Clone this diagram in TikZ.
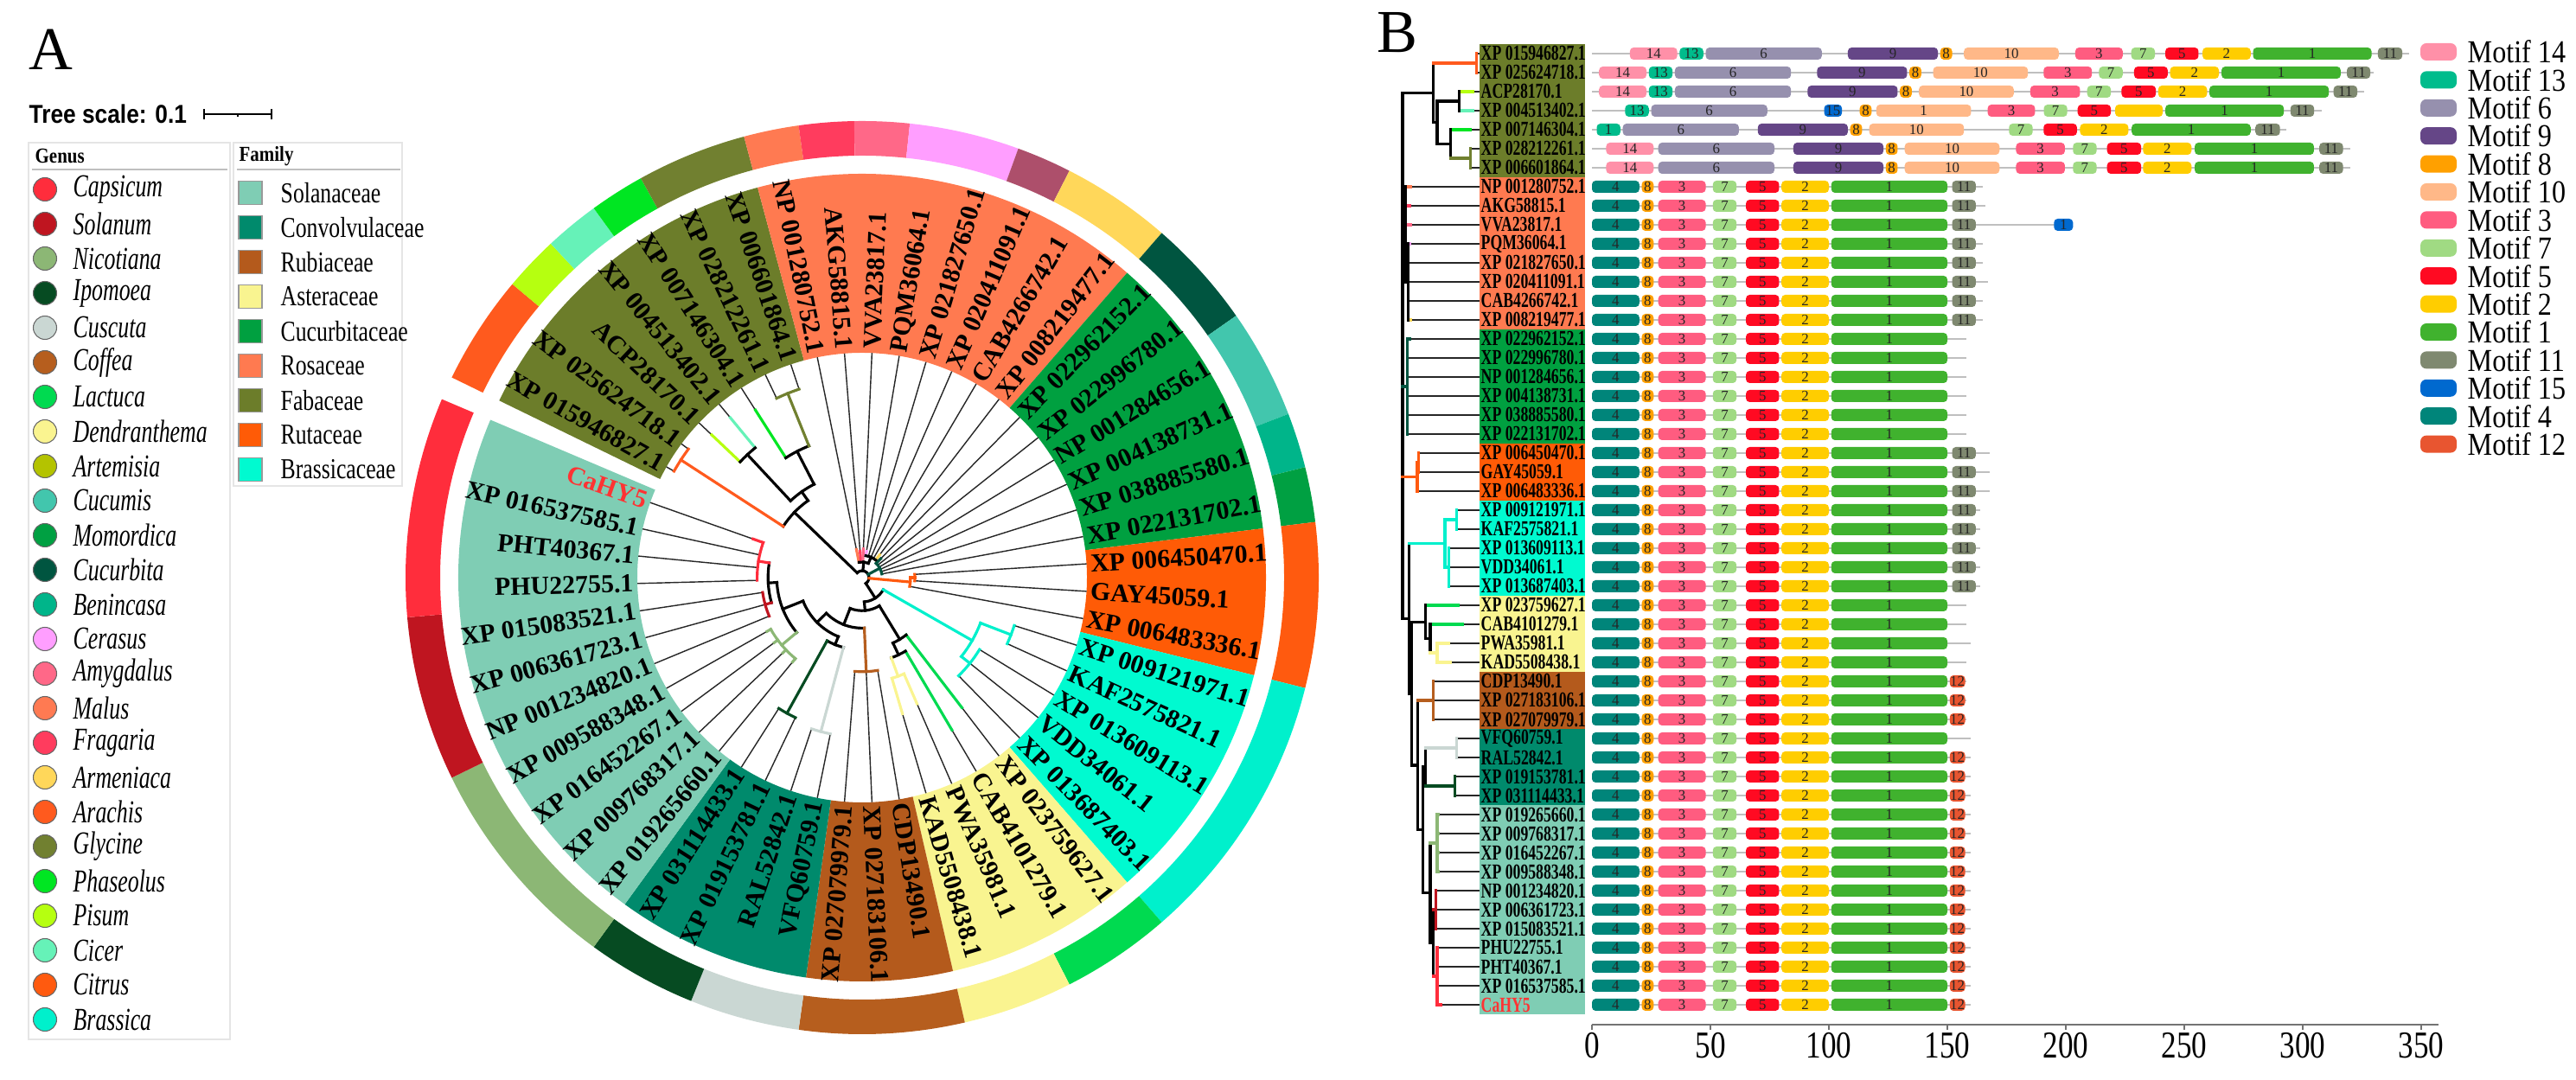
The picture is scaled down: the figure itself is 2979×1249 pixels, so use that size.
\documentclass[tikz,border=0pt]{standalone}
\usepackage{fontspec}
\setmainfont{Liberation Serif}
\newfontfamily\arialfont{Liberation Sans}
\usepackage{graphicx}
\usetikzlibrary{positioning}

% family colours
\definecolor{Solanaceae}{HTML}{7FCDB4}
\definecolor{Convolvulaceae}{HTML}{008A6C}
\definecolor{Rubiaceae}{HTML}{B45A1C}
\definecolor{Asteraceae}{HTML}{F9F490}
\definecolor{Cucurbitaceae}{HTML}{00A040}
\definecolor{Rosaceae}{HTML}{FF7A50}
\definecolor{Fabaceae}{HTML}{6C7D2A}
\definecolor{Rutaceae}{HTML}{FF5B06}
\definecolor{Brassicaceae}{HTML}{00FAD0}
% genus colours
\definecolor{Capsicum}{HTML}{FF2D3C}
\definecolor{Solanum}{HTML}{BF1520}
\definecolor{Nicotiana}{HTML}{8CB775}
\definecolor{Ipomoea}{HTML}{064B22}
\definecolor{Cuscuta}{HTML}{CAD7D3}
\definecolor{Coffea}{HTML}{B65E1E}
\definecolor{Lactuca}{HTML}{00DA50}
\definecolor{Dendranthema}{HTML}{FAF490}
\definecolor{Artemisia}{HTML}{B4C300}
\definecolor{Cucumis}{HTML}{42C6AD}
\definecolor{Momordica}{HTML}{00A042}
\definecolor{Cucurbita}{HTML}{005540}
\definecolor{Benincasa}{HTML}{00B58A}
\definecolor{Cerasus}{HTML}{FF9EFF}
\definecolor{Amygdalus}{HTML}{FF6888}
\definecolor{Persica}{HTML}{AD4F6B}
\definecolor{Malus}{HTML}{FF7A52}
\definecolor{Fragaria}{HTML}{FF3C5E}
\definecolor{Armeniaca}{HTML}{FFD75A}
\definecolor{Arachis}{HTML}{FF5A1E}
\definecolor{Glycine}{HTML}{718030}
\definecolor{Phaseolus}{HTML}{00E622}
\definecolor{Pisum}{HTML}{B6FF10}
\definecolor{Cicer}{HTML}{66F2B8}
\definecolor{Citrus}{HTML}{FF5A0F}
\definecolor{Brassica}{HTML}{00F0CC}
\definecolor{HYred}{HTML}{FF3333}
% motif colours
\definecolor{m1}{HTML}{40B22E}
\definecolor{m2}{HTML}{FFCD00}
\definecolor{m3}{HTML}{FF5C80}
\definecolor{m4}{HTML}{00857A}
\definecolor{m5}{HTML}{FF0A22}
\definecolor{m6}{HTML}{9690AE}
\definecolor{m7}{HTML}{A0DA83}
\definecolor{m8}{HTML}{FFA000}
\definecolor{m9}{HTML}{654687}
\definecolor{m10}{HTML}{FFB888}
\definecolor{m11}{HTML}{7F8970}
\definecolor{m12}{HTML}{E85530}
\definecolor{m13}{HTML}{00BC8C}
\definecolor{m14}{HTML}{FF90A8}
\definecolor{m15}{HTML}{0069CF}

\tikzset{branch/.style={line width=0.9pt,line cap=rect},
    twig/.style={line width=0.4pt,black!85},
    leaflabel/.style={font=\fontsize{8.5}{9}\selectfont\bfseries,inner sep=0pt},
    rowlabel/.style={font=\fontsize{7}{8}\selectfont\bfseries,inner sep=0pt},
    backbone/.style={draw=black!25,line width=0.45pt},
    motiftext/.style={font=\fontsize{4.8}{5}\selectfont,inner sep=0pt,text=black!85},
    motiflegend/.style={font=\fontsize{10.5}{12}\selectfont,inner sep=0pt},
    legendbox/.style={draw=black!10,line width=0.4pt},
    legendhead/.style={font=\fontsize{7}{8}\selectfont\bfseries,inner sep=0pt},
    genustext/.style={font=\fontsize{10.5}{12}\selectfont\itshape,inner sep=0pt},
    familytext/.style={font=\fontsize{9.5}{11}\selectfont,inner sep=0pt},
    axislabel/.style={font=\fontsize{12.5}{14}\selectfont,inner sep=0pt}
}

\newcommand{\sq}[2]{\scalebox{#1}[1]{#2}}

\newcommand{\treeclade}[6]
{
% args: (parent depth, depth, position, first child, last child, colour)
    \pgfmathsetmacro\angpos{150.5-7*(#3-1)}
    \pgfmathsetmacro\angfirst{150.5-7*(#4-1)}
    \pgfmathsetmacro\anglast{150.5-7*(#5-1)}
    \pgfmathsetmacro\rfrom{8+252*#1}
    \pgfmathsetmacro\rto{8+252*#2}
    \begin{scope}[shift={(997,581)}]
        \draw[branch,draw=#6] (\angpos:\rfrom) -- (\angpos:\rto);
        \draw[branch,draw=#6] (\angfirst:\rto) arc[start angle=\angfirst,end angle=\anglast,radius=\rto];
    \end{scope}
    \draw[branch,draw=#6] ({1622+89*#1},{1187-22*(#3-1)}) -- ({1622+89*#2},{1187-22*(#3-1)});
    \draw[branch,draw=#6] ({1622+89*#2},{1187-22*(#4-1)}) -- ({1622+89*#2},{1187-22*(#5-1)});
}

\newcommand{\treeleaf}[4]
{
% args: (leaf, parent depth, colour of the inner part, depth where it turns black)
    \pgfmathsetmacro\angleaf{150.5-7*(#1-1)}
    \pgfmathsetmacro\rfrom{8+252*#2}
    \pgfmathsetmacro\rmid{8+252*#4}
    \pgfmathsetmacro\rowy{1187-22*(#1-1)}
    \begin{scope}[shift={(997,581)}]
        \draw[twig] (\angleaf:\rmid) -- (\angleaf:260);
        \draw[branch,draw=#3] (\angleaf:\rfrom) -- (\angleaf:\rmid);
    \end{scope}
    \draw[twig] ({1622+89*#4},\rowy) -- (1711,\rowy);
    \draw[branch,draw=#3] ({1622+89*#2},\rowy) -- ({1622+89*#4},\rowy);
}

\newcommand{\motifbox}[5]
{
% args: (start, end, y, motif colour, label)
    \fill[fill=m#4,rounded corners=1.2pt] ({1841+2.74*#1},{#3-7}) rectangle ({1841+2.74*#2},{#3+7});
    \node[motiftext] at ({1841+2.74*(#1+#2)/2},#3) {#5};
}

\newcommand{\motifrow}[3]
{
% args: (row, end of the line, list of start/end/motif/label)
    \pgfmathsetmacro\rowy{1187-22*(#1-1)}
    \draw[backbone] (1841,\rowy) -- ({1841+2.74*#2},\rowy);
    \foreach \a/\b/\c/\l in {#3}
        \motifbox{\a}{\b}{\rowy}{\c}{\l};
}

\begin{document}
\begin{tikzpicture}[x=0.01cm,y=0.01cm]
\useasboundingbox (0,0) rectangle (2979,1249);

% panel A: heading, scale and legends
\node[font=\fontsize{20}{22}\selectfont] (tagA) at (59,1192) {A};
\node[font=\arialfont\bfseries\fontsize{8.5}{9}\selectfont,anchor=west,inner sep=0pt] (treescale) at (33,1117) {\sq{0.88}{Tree scale: 0.1}};
\draw[line width=0.6pt] (236,1117) -- (314,1117);
\draw[line width=0.6pt] (236,1111) -- (236,1123) (314,1111) -- (314,1123) (275,1117) -- (275,1114);

\draw[legendbox] (33,47) rectangle (266,1084);
\draw[legendbox] (270,687) rectangle (465,1084);
\node[legendhead,anchor=west] (genushead) at (40,1068) {\sq{0.85}{Genus}};
\node[legendhead,anchor=west] (familyhead) at (276,1068) {\sq{0.85}{Family}};
\draw[black!25,line width=0.6pt] (37,1053) -- (263,1053);
\draw[black!25,line width=0.6pt] (274,1053) -- (463,1053);

\foreach \g [count=\i] in {Capsicum,Solanum,Nicotiana,Ipomoea,Cuscuta,Coffea,Lactuca,Dendranthema,Artemisia,Cucumis,Momordica,Cucurbita,Benincasa,Cerasus,Amygdalus,Malus,Fragaria,Armeniaca,Arachis,Glycine,Phaseolus,Pisum,Cicer,Citrus,Brassica}
{
    \pgfmathsetmacro\ly{1030-40*(\i-1)}
    \filldraw[fill=\g,draw=black!60,line width=0.3pt] (52,\ly) circle[radius=13.5];
    \node[genustext,anchor=west] at (84,\ly) {\sq{0.7}{\g}};
}
\foreach \f [count=\i] in {Solanaceae,Convolvulaceae,Rubiaceae,Asteraceae,Cucurbitaceae,Rosaceae,Fabaceae,Rutaceae,Brassicaceae}
{
    \pgfmathsetmacro\ly{1026-40*(\i-1)}
    \filldraw[fill=\f,draw=black!40,line width=0.3pt] (276,\ly-13.5) rectangle (303,\ly+13.5);
    \node[familytext,anchor=west] at (324,\ly) {\sq{0.77}{\f}};
}

% panel A: family sectors and genus ring
\begin{scope}[shift={(997,581)}]
\foreach \a/\b/\c in {1/7/Fabaceae,8/15/Rosaceae,16/21/Cucurbitaceae,22/24/Rutaceae,25/29/Brassicaceae,30/33/Asteraceae,34/36/Rubiaceae,37/40/Convolvulaceae,41/51/Solanaceae}
{
    \pgfmathsetmacro\sa{150.5-7*(\a-1)+3.5}
    \pgfmathsetmacro\sb{150.5-7*(\b-1)-3.5}
    \fill[fill=\c] (\sa:260) arc[start angle=\sa,end angle=\sb,radius=260] -- (\sb:467) arc[start angle=\sb,end angle=\sa,radius=467] -- cycle;
}
\foreach \a/\b/\c in {1/2/Arachis,3/3/Pisum,4/4/Cicer,5/5/Phaseolus,6/7/Glycine,8/8/Malus,9/9/Fragaria,10/10/Amygdalus,11/12/Cerasus,13/13/Persica,14/15/Armeniaca,16/17/Cucurbita,18/19/Cucumis,20/20/Benincasa,21/21/Momordica,22/24/Citrus,25/29/Brassica,30/31/Lactuca,32/33/Dendranthema,34/36/Coffea,37/38/Cuscuta,39/40/Ipomoea,41/44/Nicotiana,45/47/Solanum,48/51/Capsicum}
{
    \pgfmathsetmacro\sa{150.5-7*(\a-1)+3.5}
    \pgfmathsetmacro\sb{150.5-7*(\b-1)-3.5}
    \fill[fill=\c] (\sa:488) arc[start angle=\sa,end angle=\sb,radius=488] -- (\sb:528) arc[start angle=\sb,end angle=\sa,radius=528] -- cycle;
}
\end{scope}

% both trees
\foreach \k/\d/\c/\m in {1/0.96/Arachis/0.96,2/0.96/Arachis/0.96,3/0.74/Pisum/0.92,4/0.74/Cicer/0.92,5/0.62/Phaseolus/0.88,6/0.88/Glycine/0.88,7/0.88/Glycine/0.88,
    8/0.04/Malus/0.1,9/0.04/Fragaria/0.09,10/0.04/Amygdalus/0.1,11/0.07/Cerasus/0.09,12/0.07/black/0.07,13/0.07/black/0.07,14/0.07/black/0.07,15/0.07/Armeniaca/0.1,
    16/0.06/Cucurbita/0.09,17/0.06/black/0.06,18/0.06/black/0.06,19/0.06/black/0.06,20/0.06/black/0.06,21/0.06/black/0.06,
    22/0.21/black/0.21,23/0.21/black/0.21,24/0.19/black/0.19,
    25/0.70/black/0.70,26/0.70/black/0.70,27/0.60/black/0.60,28/0.60/black/0.60,29/0.60/black/0.60,
    30/0.30/Lactuca/0.72,31/0.36/Lactuca/0.78,32/0.45/Dendranthema/0.6,33/0.45/Dendranthema/0.62,
    34/0.40/black/0.40,35/0.40/black/0.40,36/0.40/black/0.40,
    37/0.70/black/0.70,38/0.70/black/0.70,39/0.68/black/0.68,40/0.68/black/0.68,
    41/0.45/Nicotiana/0.47,42/0.45/Nicotiana/0.47,43/0.45/Nicotiana/0.47,44/0.45/Nicotiana/0.47,
    45/0.43/black/0.43,46/0.43/black/0.43,47/0.43/black/0.43,48/0.45/black/0.45,49/0.45/black/0.45,50/0.45/black/0.45,51/0.45/Capsicum/0.5}
    \treeleaf{\k}{\d}{\c}{\m};

\treeclade{0}{0}{3.06}{3.06}{30.70}{black}
\treeclade{0}{0.40}{3.06}{1.5}{4.625}{black}
\treeclade{0.40}{0.96}{1.5}{1}{2}{Arachis}
\treeclade{0.40}{0.45}{4.625}{3.5}{5.75}{black}
\treeclade{0.45}{0.74}{3.5}{3}{4}{black}
\treeclade{0.45}{0.62}{5.75}{5}{6.5}{black}
\treeclade{0.62}{0.88}{6.5}{6}{7}{Glycine}
\treeclade{0}{0.04}{10.5}{8}{13}{black}
\treeclade{0.04}{0.07}{13}{11}{15}{black}
\treeclade{0}{0.06}{18.5}{16}{21}{Cucurbita}
\treeclade{0}{0.19}{23.25}{22.5}{24}{Citrus}
\treeclade{0.19}{0.21}{22.5}{22}{23}{Citrus}
\treeclade{0}{0.08}{30.70}{26.75}{34.64}{black}
\treeclade{0.08}{0.55}{26.75}{25.5}{28}{Brassica}
\treeclade{0.55}{0.70}{25.5}{25}{26}{Brassica}
\treeclade{0.55}{0.60}{28}{27}{29}{Brassica}
\treeclade{0.08}{0.12}{34.64}{30.875}{38.41}{black}
\treeclade{0.12}{0.30}{30.875}{30}{31.75}{black}
\treeclade{0.30}{0.36}{31.75}{31}{32.5}{black}
\treeclade{0.36}{0.45}{32.5}{32}{33}{Dendranthema}
\treeclade{0.12}{0.20}{38.41}{35}{41.81}{black}
\treeclade{0.20}{0.40}{35}{34}{36}{Coffea}
\treeclade{0.20}{0.26}{41.81}{38.5}{45.125}{black}
\treeclade{0.26}{0.30}{38.5}{37.5}{39.5}{black}
\treeclade{0.30}{0.70}{37.5}{37}{38}{Cuscuta}
\treeclade{0.30}{0.68}{39.5}{39}{40}{Ipomoea}
\treeclade{0.26}{0.36}{45.125}{42.5}{47.75}{black}
\treeclade{0.36}{0.45}{42.5}{41}{44}{Nicotiana}
\treeclade{0.36}{0.40}{47.75}{46}{49.5}{black}
\treeclade{0.40}{0.43}{46}{45}{47}{Solanum}
\treeclade{0.40}{0.45}{49.5}{48}{51}{Capsicum}

% leaf names, on the circle and in the boxes of panel B
\foreach \k/\lab/\fam/\tc in {1/XP 015946827.1/Fabaceae/black,2/XP 025624718.1/Fabaceae/black,3/ACP28170.1/Fabaceae/black,4/XP 004513402.1/Fabaceae/black,5/XP 007146304.1/Fabaceae/black,6/XP 028212261.1/Fabaceae/black,7/XP 006601864.1/Fabaceae/black,
    8/NP 001280752.1/Rosaceae/black,9/AKG58815.1/Rosaceae/black,10/VVA23817.1/Rosaceae/black,11/PQM36064.1/Rosaceae/black,12/XP 021827650.1/Rosaceae/black,13/XP 020411091.1/Rosaceae/black,14/CAB4266742.1/Rosaceae/black,15/XP 008219477.1/Rosaceae/black,
    16/XP 022962152.1/Cucurbitaceae/black,17/XP 022996780.1/Cucurbitaceae/black,18/NP 001284656.1/Cucurbitaceae/black,19/XP 004138731.1/Cucurbitaceae/black,20/XP 038885580.1/Cucurbitaceae/black,21/XP 022131702.1/Cucurbitaceae/black,
    22/XP 006450470.1/Rutaceae/black,23/GAY45059.1/Rutaceae/black,24/XP 006483336.1/Rutaceae/black,
    25/XP 009121971.1/Brassicaceae/black,26/KAF2575821.1/Brassicaceae/black,27/XP 013609113.1/Brassicaceae/black,28/VDD34061.1/Brassicaceae/black,29/XP 013687403.1/Brassicaceae/black,
    30/XP 023759627.1/Asteraceae/black,31/CAB4101279.1/Asteraceae/black,32/PWA35981.1/Asteraceae/black,33/KAD5508438.1/Asteraceae/black,
    34/CDP13490.1/Rubiaceae/black,35/XP 027183106.1/Rubiaceae/black,36/XP 027079979.1/Rubiaceae/black,
    37/VFQ60759.1/Convolvulaceae/black,38/RAL52842.1/Convolvulaceae/black,39/XP 019153781.1/Convolvulaceae/black,40/XP 031114433.1/Convolvulaceae/black,
    41/XP 019265660.1/Solanaceae/black,42/XP 009768317.1/Solanaceae/black,43/XP 016452267.1/Solanaceae/black,44/XP 009588348.1/Solanaceae/black,45/NP 001234820.1/Solanaceae/black,46/XP 006361723.1/Solanaceae/black,47/XP 015083521.1/Solanaceae/black,48/PHU22755.1/Solanaceae/black,49/PHT40367.1/Solanaceae/black,50/XP 016537585.1/Solanaceae/black,51/CaHY5/Solanaceae/HYred}
{
    \pgfmathsetmacro\ang{150.5-7*(\k-1)}
    \pgfmathsetmacro\rowy{1187-22*(\k-1)}
    \fill[fill=\fam] (1711,\rowy-11) rectangle (1833,\rowy+11);
    \node[rowlabel,text=\tc,anchor=west] at (1712,\rowy) {\sq{0.72}{\lab}};
    \begin{scope}[shift={(997,581)}]
    \ifnum\k<10
        \node[leaflabel,text=\tc,anchor=east,rotate=\ang-180] at (\ang:264) {\lab};
    \else\ifnum\k>35
        \node[leaflabel,text=\tc,anchor=east,rotate=\ang-180] at (\ang:264) {\lab};
    \else
        \node[leaflabel,text=\tc,anchor=west,rotate=\ang] at (\ang:264) {\lab};
    \fi\fi
    \end{scope}
}

% panel B
\node[font=\fontsize{20}{22}\selectfont] (tagB) at (1616,1211) {B};

% motif rows of the Fabaceae
\motifrow{1}{345}{16/36/14/14,37/47/13/13,48/97/6/6,108/146/9/9,147/152/8/8,157/197/10/10,204/224/3/3,227.6/237.6/7/7,242/256/5/5,257.7/278/2/2,279/329/1/1,331.7/342/11/11}
\motifrow{2}{330}{3/23/14/14,24/34/13/13,35/84/6/6,95/133/9/9,134/139/8/8,144/184/10/10,190.6/211/3/3,214/224/7/7,228.8/243/5/5,244/264.6/2/2,265.7/316/1/1,318.6/328.5/11/11}
\motifrow{3}{326}{3/23/14/14,24/34/13/13,35/84/6/6,91/129/9/9,130/135/8/8,138/178/10/10,185/206/3/3,209/219/7/7,223.5/238/5/5,239/259.6/2/2,260.6/311/1/1,313/323/11/11}
\motifrow{4}{308}{14/24/13/13,25/74/6/6,98/105.5/15/15,113/118/8/8,120/160/10/1,167/187/3/3,190.7/200.6/7/7,205/219/5/5,220.8/240.9/2/{},242/292/1/1,294.8/304.8/11/11}
\motifrow{5}{293}{2/12/13/1,13/62/6/6,70/108/9/9,109/114/8/8,117/157/10/10,176/186/7/7,190.6/204.7/5/5,206/226.4/2/2,227.8/278/1/1,280/290.4/11/11}
\motifrow{6}{320}{6/26/14/14,28/77/6/6,85/123/9/9,124/129/8/8,132/172/10/10,179/199.6/3/3,203/213/7/7,217.4/231.8/5/5,232.6/253/2/2,254.4/304.7/1/1,307/317/11/11}
\motifrow{7}{320}{6/26/14/14,28/77/6/6,85/123/9/9,124/129/8/8,132/172/10/10,179/199.6/3/3,203/213/7/7,217.4/231.8/5/5,232.6/253/2/2,254.4/304.7/1/1,307/317/11/11}

% the other rows share one layout
\foreach \r/\e/\t in {8/165/11,9/166/11,10/203/11,11/165/11,12/165/11,13/167/11,14/165/11,15/165/11,
    16/158/0,17/158/0,18/158/0,19/158/0,20/158/0,21/158/0,22/168/11,23/168/11,24/168/11,
    25/164/11,26/164/11,27/164/11,28/164/11,29/164/11,30/158/0,31/158/0,32/160/0,33/158/0,
    34/158/12,35/158/12,36/158/12,37/160/0,38/160/12,39/160/12,40/160/12,41/160/12,42/160/12,
    43/160/12,44/160/12,45/160/12,46/160/12,47/160/12,48/160/12,49/160/12,50/160/12,51/160/12}
{
    \pgfmathsetmacro\rowy{1187-22*(\r-1)}
    \draw[backbone] (1841,\rowy) -- ({1841+2.74*\e},\rowy);
    \foreach \a/\b/\c in {0/20/4,21/26/8,28/48/3,51/61/7,65/79/5,80/100/2,101/150/1}
        \motifbox{\a}{\b}{\rowy}{\c}{\c};
    \ifnum\t=11 \motifbox{152}{162}{\rowy}{11}{11}\fi
    \ifnum\t=12 \motifbox{151}{157.5}{\rowy}{12}{12}\fi
}
\motifbox{195}{203}{989}{15}{1}

% length axis
\draw[black!55,line width=0.8pt] (1841,64) -- (2820,64);
\foreach \t in {0,50,...,350}
{
    \draw[black!55,line width=0.5pt] ({1841+2.74*\t},64) -- ({1841+2.74*\t},58);
    \node[axislabel] at ({1841+2.74*\t},40) {\sq{0.8}{\t}};
}

% motif legend
\foreach \m [count=\i] in {14,13,6,9,8,10,3,7,5,2,1,11,15,4,12}
{
    \pgfmathsetmacro\ly{1189-32.4*(\i-1)}
    \fill[fill=m\m,rounded corners=2pt] (2799,\ly-10) rectangle (2841,\ly+10);
    \node[motiflegend,anchor=west] at (2853,\ly) {\sq{0.87}{Motif \m}};
}

\end{tikzpicture}
\end{document}
